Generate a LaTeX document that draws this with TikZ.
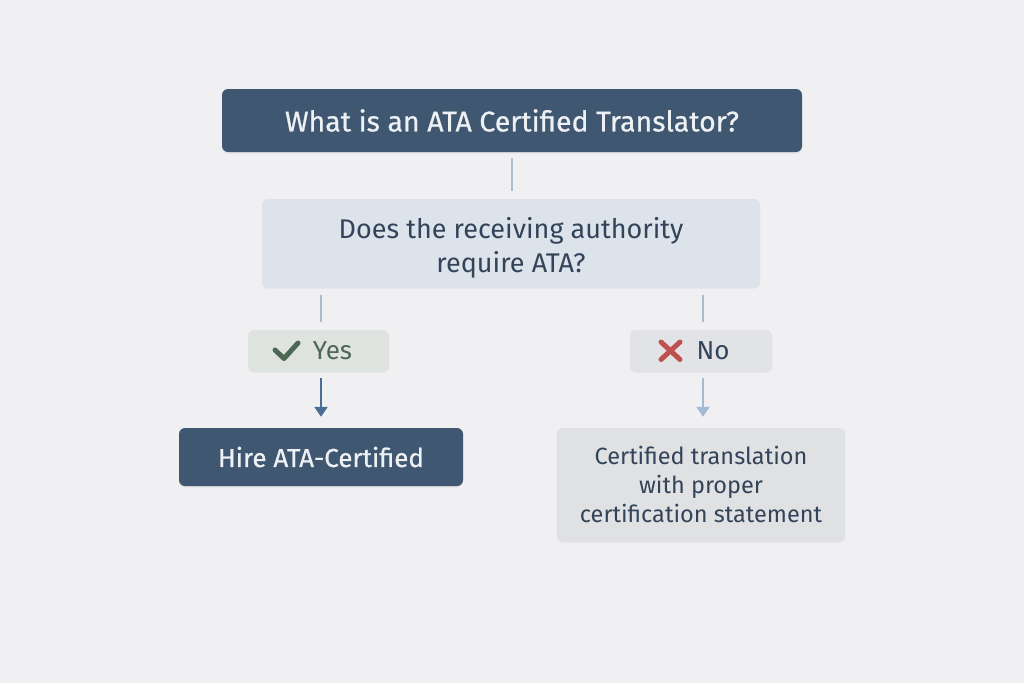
\documentclass[tikz,border=0pt]{standalone}
\usepackage{fontspec}
\setmainfont{Fira Sans}
\newfontfamily\medfont{Fira Sans}[FakeBold=0.6]
\usetikzlibrary{arrows.meta,shadows}
\definecolor{bg}{HTML}{F0F0F2}
\definecolor{navy}{HTML}{405771}
\definecolor{qfill}{HTML}{DCE3EA}
\definecolor{textdark}{HTML}{33445A}
\definecolor{conn}{HTML}{A9BDD0}
\definecolor{yesfill}{HTML}{DFE3DF}
\definecolor{yesgreen}{HTML}{4C6855}
\definecolor{nofill}{HTML}{E2E3E6}
\definecolor{nored}{HTML}{C0504D}
\definecolor{darkarrow}{HTML}{4A6D93}
\definecolor{lightarrow}{HTML}{A3BBD2}
\definecolor{certfill}{HTML}{E0E1E3}
\definecolor{whitetext}{HTML}{EEF1F4}
\tikzset{
  box/.style={rectangle, rounded corners=6pt, align=center, inner sep=0pt,
    drop shadow={opacity=0.12, shadow xshift=0pt, shadow yshift=-1.5pt}},
  darkbox/.style={box, fill=navy, text=whitetext},
  lightbox/.style={box, text=textdark},
  tagbox/.style={box, font=\fontsize{26}{28}\selectfont},
  connline/.style={draw=conn, line width=2.5pt},
  arr/.style={line width=2.5pt, -{Triangle[width=13pt,length=10pt]}},
  icon/.style={line width=5pt, line cap=round, line join=round}
}
\begin{document}
\begin{tikzpicture}[x=1pt,y=-1pt]
\fill[bg] (0,0) rectangle (1024,683);
\useasboundingbox (0,0) rectangle (1024,683);

\node[darkbox, minimum width=580pt, minimum height=63pt, font=\medfont\fontsize{28.5}{32}\selectfont] (top) at (512,120.5) {What is an ATA Certified Translator?};
\node[lightbox, fill=qfill, minimum width=498pt, minimum height=88pt, font=\fontsize{27}{34}\selectfont] (q) at (511,243) {\rule{0pt}{31pt}Does the receiving authority\\require ATA?};
\node[tagbox, fill=yesfill, text=yesgreen, minimum width=141pt, minimum height=41pt] (yes) at (318.5,350.5) {\hspace*{28pt}Yes};
\node[tagbox, fill=nofill, text=textdark, minimum width=142pt, minimum height=41pt] (no) at (701,350.5) {\hspace*{24pt}No};
\node[darkbox, minimum width=284pt, minimum height=58pt, font=\medfont\fontsize{26}{30}\selectfont] (hire) at (321,457) {Hire ATA-Certified};
\node[lightbox, fill=certfill, minimum width=288pt, minimum height=113pt, font=\fontsize{23.5}{29}\selectfont] (cert) at (701,484.5) {Certified translation\\with proper\\certification statement};

% icons
\draw[icon, yesgreen] ([shift={(-43.5,-0.5)}]yes.center) -- ([shift={(-34.5,8)}]yes.center) -- ([shift={(-20.5,-7.5)}]yes.center);
\draw[icon, nored] ([shift={(-40,-8.5)}]no.center) -- ([shift={(-21,9)}]no.center);
\draw[icon, nored] ([shift={(-21,-8.5)}]no.center) -- ([shift={(-40,9)}]no.center);

\coordinate (lx) at (321,0);
\coordinate (rx) at (703,0);

\draw[connline, shorten <=6pt, shorten >=8pt] (top.south) -- (q.north -| top.south);
\draw[connline, shorten <=8pt, shorten >=8pt] (q.south -| lx) -- (yes.north -| lx);
\draw[connline, shorten <=8pt, shorten >=8pt] (q.south -| rx) -- (no.north -| rx);
\draw[arr, darkarrow, shorten <=7pt, shorten >=11pt] (yes.south -| lx) -- (hire.north -| lx);
\draw[arr, lightarrow, shorten <=7pt, shorten >=11pt] (no.south -| rx) -- (cert.north -| rx);
\end{tikzpicture}
\end{document}
